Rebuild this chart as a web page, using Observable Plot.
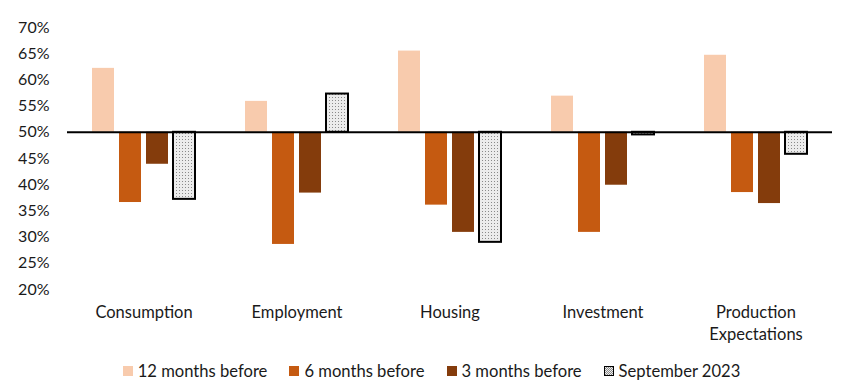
<!DOCTYPE html>
<html>
<head>
<meta charset="utf-8">
<script src="https://cdn.jsdelivr.net/npm/d3@7"></script>
<script src="https://cdn.jsdelivr.net/npm/@observablehq/plot@0.6"></script>
<style>
  html, body { margin: 0; padding: 0; background: #fff; }
  #chart { width: 843px; font-family: Lato, "Open Sans", sans-serif; }
  .legend { display: flex; justify-content: center; align-items: center; gap: 22px; height: 41px; font-size: 16.6px; color: #1a1a1a; margin-left: 20px; }
  .legend .item { display: flex; align-items: center; gap: 5px; }
  .legend .sw { width: 10px; height: 10px; box-sizing: border-box; }
</style>
</head>
<body>
<svg width="0" height="0" style="position:absolute">
  <defs>
    <pattern id="dots" width="3" height="3" patternUnits="userSpaceOnUse">
      <rect width="3" height="3" fill="#ececec"></rect>
      <rect x="1" y="1" width="1" height="1" fill="#8a8a8a"></rect>
    </pattern>
  </defs>
</svg>
<div id="chart"></div>
<script>
const categories = ["Consumption", "Employment", "Housing", "Investment", "Production\nExpectations"];
const seriesNames = ["12 months before", "6 months before", "3 months before", "September 2023"];
const months12 = [62.2, 55.9, 65.5, 56.9, 64.7];
const months6 = [36.6, 28.6, 36.1, 30.9, 38.5];
const months3 = [43.9, 38.4, 30.9, 39.9, 36.4];
const sep2023 = [37.2, 57.3, 29.0, 49.5, 45.8];
const yTicks = [20, 25, 30, 35, 40, 45, 50, 55, 60, 65, 70];
const baseline = 50;

const fills = ["#F8CBAD", "#C55A11", "#843C0C", "url(#dots)"];
const seriesValues = [months12, months6, months3, sep2023];

const rows = [];
categories.forEach((c, i) => {
  seriesNames.forEach((s, j) => {
    rows.push({category: c, series: s, value: seriesValues[j][i]});
  });
});

const plot = Plot.plot({
  width: 843,
  height: 350,
  marginTop: 27,
  marginBottom: 61,
  marginLeft: 66,
  marginRight: 10,
  style: {fontSize: "16px", fontFamily: "Lato, 'Open Sans', sans-serif", color: "#1a1a1a"},
  fx: {domain: categories, padding: 0, label: null},
  x: {domain: seriesNames, paddingInner: 0.2, paddingOuter: 0.88, axis: null},
  y: {domain: [20, 70], label: null},
  color: {domain: seriesNames, range: fills},
  marks: [
    Plot.axisY({ticks: yTicks, tickFormat: d => d + "%", tickSize: 0, tickPadding: 18, fontSize: 16}),
    Plot.axisFx({anchor: "bottom", tickSize: 0, tickPadding: 12, lineHeight: 1.38, fontSize: 16.5, label: null}),
    Plot.barY(rows.filter(d => d.series !== "September 2023"), {
      fx: "category", x: "series", y1: baseline, y2: "value", fill: "series"
    }),
    Plot.barY(rows.filter(d => d.series === "September 2023"), {
      fx: "category", x: "series", y1: baseline, y2: "value", fill: "series",
      stroke: "#000", strokeWidth: 2
    }),
    Plot.ruleY([baseline], {stroke: "#000", strokeWidth: 2})
  ]
});
document.getElementById("chart").appendChild(plot);

const legend = document.createElement("div");
legend.className = "legend";
seriesNames.forEach((s, j) => {
  const item = document.createElement("div");
  item.className = "item";
  const sw = document.createElement("span");
  sw.className = "sw";
  if (j === 3) {
    sw.style.background = "repeating-conic-gradient(#8a8a8a 0 25%, #ececec 0 50%) 0 0/2px 2px";
    sw.style.border = "1.5px solid #000";
  } else {
    sw.style.background = fills[j];
  }
  const t = document.createElement("span");
  t.textContent = s;
  item.appendChild(sw);
  item.appendChild(t);
  legend.appendChild(item);
});
document.getElementById("chart").appendChild(legend);
</script>
</body>
</html>
